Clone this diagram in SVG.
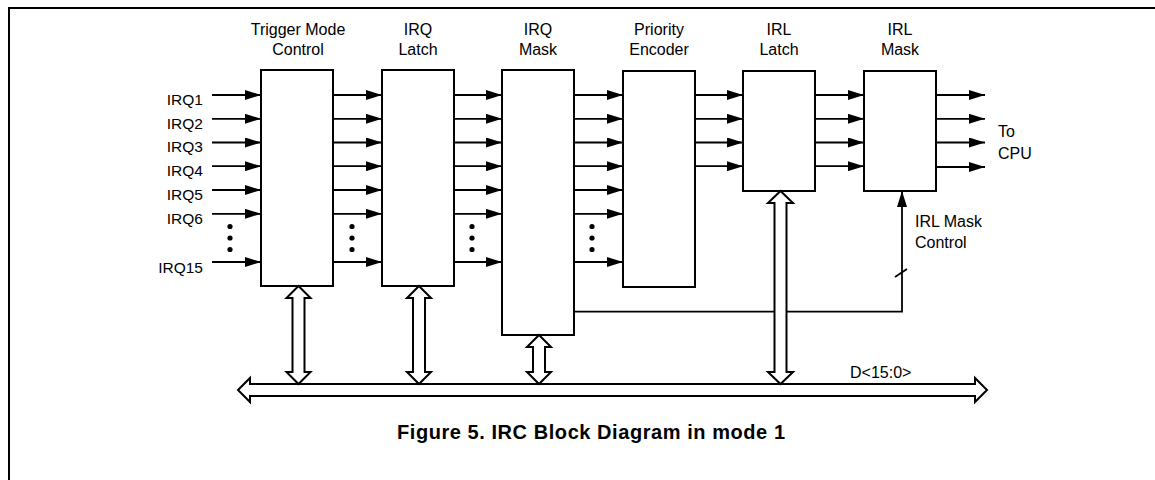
<svg xmlns="http://www.w3.org/2000/svg" width="1155" height="480" viewBox="0 0 1155 480">
<style>
text{font-family:"Liberation Sans",Arial,Helvetica,sans-serif;font-size:16px;fill:#000}
.lbl{text-anchor:middle}
.irq{text-anchor:end;font-size:15.5px}
.blk{fill:#fff;stroke:#000;stroke-width:2}
.w{fill:none;stroke:#000;stroke-width:1.8}
.bus{fill:#fff;stroke:#000;stroke-width:2;stroke-linejoin:miter}
.cap{font-weight:bold;font-size:20px}
</style>
<defs>
<marker id="ah" markerUnits="userSpaceOnUse" markerWidth="16" markerHeight="10" refX="16" refY="5" orient="auto">
<path d="M0,0 L16,5 L0,10 Z" fill="#000"/>
</marker>
</defs>
<g id="frame" fill="none" stroke="#000" stroke-width="2">
<path d="M9,480 V8 H1155"/>
</g>
<g id="trigger-mode-control">
<rect class="blk" x="261" y="70" width="72" height="216"/>
<text class="lbl" x="298" y="35">Trigger Mode</text>
<text class="lbl" x="298" y="55">Control</text>
</g>
<g id="irq-latch">
<rect class="blk" x="382" y="70" width="72" height="216"/>
<text class="lbl" x="418" y="35">IRQ</text>
<text class="lbl" x="418" y="55">Latch</text>
</g>
<g id="irq-mask">
<rect class="blk" x="502" y="70" width="72" height="265"/>
<text class="lbl" x="538" y="35">IRQ</text>
<text class="lbl" x="538" y="55">Mask</text>
</g>
<g id="priority-encoder">
<rect class="blk" x="623" y="71" width="72" height="216"/>
<text class="lbl" x="659" y="35">Priority</text>
<text class="lbl" x="659" y="55">Encoder</text>
</g>
<g id="irl-latch">
<rect class="blk" x="743" y="71" width="72" height="120"/>
<text class="lbl" x="779" y="35">IRL</text>
<text class="lbl" x="779" y="55">Latch</text>
</g>
<g id="irl-mask">
<rect class="blk" x="864" y="71" width="72" height="120"/>
<text class="lbl" x="900" y="35">IRL</text>
<text class="lbl" x="900" y="55">Mask</text>
</g>
<g id="inputs">
<text class="irq" x="203" y="105">IRQ1</text>
<text class="irq" x="203" y="129">IRQ2</text>
<text class="irq" x="203" y="152">IRQ3</text>
<text class="irq" x="203" y="176">IRQ4</text>
<text class="irq" x="203" y="200">IRQ5</text>
<text class="irq" x="203" y="224">IRQ6</text>
<text class="irq" x="203" y="273">IRQ15</text>
</g>
<g id="to-cpu">
<text x="998" y="137">To</text>
<text x="998" y="159">CPU</text>
</g>
<g id="irl-mask-control">
<text x="915" y="227">IRL Mask</text>
<text x="915" y="248">Control</text>
</g>
<g id="connectors">
<g class="w">
<path d="M212,95 H261" marker-end="url(#ah)"/>
<path d="M212,118.8 H261" marker-end="url(#ah)"/>
<path d="M212,142.5 H261" marker-end="url(#ah)"/>
<path d="M212,166.2 H261" marker-end="url(#ah)"/>
<path d="M212,190 H261" marker-end="url(#ah)"/>
<path d="M212,213.8 H261" marker-end="url(#ah)"/>
<path d="M212,262 H261" marker-end="url(#ah)"/>
<path d="M333,95 H382" marker-end="url(#ah)"/>
<path d="M333,118.8 H382" marker-end="url(#ah)"/>
<path d="M333,142.5 H382" marker-end="url(#ah)"/>
<path d="M333,166.2 H382" marker-end="url(#ah)"/>
<path d="M333,190 H382" marker-end="url(#ah)"/>
<path d="M333,213.8 H382" marker-end="url(#ah)"/>
<path d="M333,262 H382" marker-end="url(#ah)"/>
<path d="M454,95 H502" marker-end="url(#ah)"/>
<path d="M454,118.8 H502" marker-end="url(#ah)"/>
<path d="M454,142.5 H502" marker-end="url(#ah)"/>
<path d="M454,166.2 H502" marker-end="url(#ah)"/>
<path d="M454,190 H502" marker-end="url(#ah)"/>
<path d="M454,213.8 H502" marker-end="url(#ah)"/>
<path d="M454,262 H502" marker-end="url(#ah)"/>
<path d="M574,95 H623" marker-end="url(#ah)"/>
<path d="M574,118.8 H623" marker-end="url(#ah)"/>
<path d="M574,142.5 H623" marker-end="url(#ah)"/>
<path d="M574,166.2 H623" marker-end="url(#ah)"/>
<path d="M574,190 H623" marker-end="url(#ah)"/>
<path d="M574,213.8 H623" marker-end="url(#ah)"/>
<path d="M574,262 H623" marker-end="url(#ah)"/>
<path d="M695,95 H743" marker-end="url(#ah)"/>
<path d="M695,118.8 H743" marker-end="url(#ah)"/>
<path d="M695,142.5 H743" marker-end="url(#ah)"/>
<path d="M695,166.2 H743" marker-end="url(#ah)"/>
<path d="M815,95 H864" marker-end="url(#ah)"/>
<path d="M815,118.8 H864" marker-end="url(#ah)"/>
<path d="M815,142.5 H864" marker-end="url(#ah)"/>
<path d="M815,166.2 H864" marker-end="url(#ah)"/>
<path d="M936,95 H985" marker-end="url(#ah)"/>
<path d="M936,118.8 H985" marker-end="url(#ah)"/>
<path d="M936,142.5 H985" marker-end="url(#ah)"/>
<path d="M936,167 H985" marker-end="url(#ah)"/>
<path d="M574,311.7 H902 V191" marker-end="url(#ah)"/>
<path d="M895,277 L907,269"/>
</g>
<g fill="#000">
<circle cx="230" cy="226.5" r="2.6"/><circle cx="230" cy="238" r="2.6"/><circle cx="230" cy="249.5" r="2.6"/>
<circle cx="352" cy="226.5" r="2.6"/><circle cx="352" cy="238" r="2.6"/><circle cx="352" cy="249.5" r="2.6"/>
<circle cx="472" cy="226.5" r="2.6"/><circle cx="472" cy="238" r="2.6"/><circle cx="472" cy="249.5" r="2.6"/>
<circle cx="592" cy="226.5" r="2.6"/><circle cx="592" cy="238" r="2.6"/><circle cx="592" cy="249.5" r="2.6"/>
</g>
<polygon class="bus" points="238,390 250,378 250,384 975,384 975,378 987,390 975,402 975,396 250,396 250,402"/>
<polygon class="bus" points="298.5,286 310.5,298 304.5,298 304.5,372 310.5,372 298.5,384 286.5,372 292.5,372 292.5,298 286.5,298"/>
<polygon class="bus" points="419,286 431,298 425,298 425,372 431,372 419,384 407,372 413,372 413,298 407,298"/>
<polygon class="bus" points="539,335 551,347 545,347 545,372 551,372 539,384 527,372 533,372 533,347 527,347"/>
<polygon class="bus" points="780.5,191 793,203 786.5,203 786.5,372 793,372 780.5,384 768,372 774.5,372 774.5,203 768,203"/>
</g>
<g id="bus-label">
<text x="850" y="378">D&lt;15:0&gt;</text>
</g>
<g id="caption">
<text class="cap" x="397" y="439" textLength="388" lengthAdjust="spacing">Figure 5. IRC Block Diagram in mode 1</text>
</g>
</svg>
